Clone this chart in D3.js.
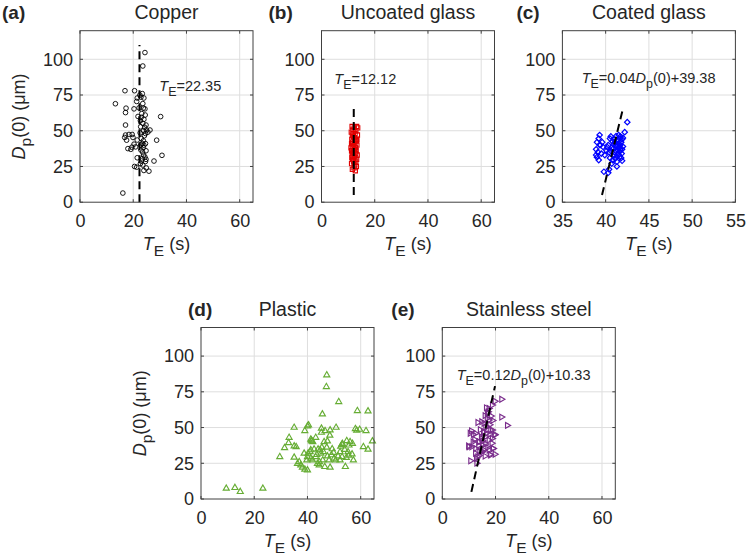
<!DOCTYPE html>
<html>
<head>
<meta charset="utf-8">
<script src="https://cdn.jsdelivr.net/npm/d3@7"></script>
<style>
  body { margin: 0; background: #fff; }
  text { font-family: "Liberation Sans", Arial, Helvetica, sans-serif; fill: #262626; }
</style>
</head>
<body>
<script>
// ---- data: [T_E (s), Dp(0) (um)] ----
var copperPts = [[24.4,104.7],[23.6,95.3],[16.9,78],[20.5,78],[23.4,76],[13.3,68.9],[21.5,72.9],[21.3,70.5],[24,72.9],
  [17.3,65.8],[20.3,65.3],[17.1,62.7],[23.8,65.8],[24.4,65.3],[23,59.4],[24,58],[30.3,59.9],[17.1,54],[23.6,55.2],
  [22.8,52.8],[24.3,52.4],[25,50.5],[26.3,50.5],[24.6,48.1],[17.1,47],[18.4,47.4],[19.6,47.4],[16.8,45.3],[19.9,45.3],
  [17.5,43.4],[23,44.6],[28.8,43.4],[23.4,41],[20.3,40.6],[20.9,38.7],[24,39.9],[22.8,39.9],[18,37.5],[23.8,38.2],
  [23.5,35.1],[30.8,32.8],[24.4,31.6],[23.4,30.4],[21.5,31.1],[23.1,28.8],[27.8,28.8],[20.5,25],[21.3,24.5],[24,22.2],
  [25.9,21.7],[16.1,6.4],[22.5,75],[22.9,73.5],[23.6,69],[23.2,62],[24.5,61],[22.7,57],[24.8,54],[23.9,50],[25.5,49],
  [24.2,46.5],[22.6,48.5],[23.8,43],[24.6,41],[22.9,36.5],[24.8,36],[23.9,33],[24.6,28.5],[22.7,27],[23.6,26],
  [24.9,24],[19.5,38.5],[19.1,37],[21.5,43.5],[22.2,66],[21.8,60],[24.8,30]];

var uncoatedPts = [[11.5,53],[12.3,52],[13.2,53],[11.8,51],[12.9,50],[11.2,49],[12.6,48],[13.5,47],[11.9,46],[12.2,45],
  [11.4,44],[12.8,44],[13.1,43],[11.7,42],[12.5,42],[11.3,41],[12.0,40],[13.3,40],[11.6,39],[12.7,38],[11.1,38],
  [12.4,37],[13.0,36],[11.9,36],[12.1,35],[11.5,34],[12.8,34],[13.4,33],[11.8,33],[12.3,32],[11.4,31],[12.6,31],
  [13.2,30],[11.7,30],[12.0,29],[12.9,28],[11.3,27],[12.5,26],[13.1,25],[12.2,24],[11.6,23],[12.7,22],[11.9,48],
  [12.4,45],[12.8,38],[11.8,35],[12.1,28],[12.5,41],[13.6,52],[11.3,36],[13.3,44],[11.6,47]];

var coatedPts = [[42.5,56],[42.2,49],[39.3,47],[39.2,44.5],[39.0,42],[39.4,40],[38.9,37],[39.1,35],[38.9,33],[39.0,31.5],
  [39.2,29.5],[39.5,34],[39.7,38.7],[39.9,33],[39.3,40],[40.3,40],[40.5,44.5],[40.1,36],[40.4,35],[39.6,42],[39.8,21.3],
  [40.3,20.6],[40.4,23],[40.7,27],[40.8,29.5],[41.3,28.3],[41.3,25],[41.6,31.7],[41.85,34],[41.7,40],[41.1,42.2],
  [40.9,37.6],[41.2,46.2],[41.5,47],[41.65,44.5],[41.3,38.7],[41.0,35],[41.4,36.5],[41.6,38],[41.8,42],[41.9,44],
  [41.2,40],[41.5,41],[40.9,40.5],[41.0,33],[41.3,32],[41.6,35.5],[41.9,37],[41.1,30.5],[40.7,38],[40.6,36],[41.4,43.5],
  [41.7,46],[42.0,45],[41.5,33.5],[41.8,31],[42.0,39],[40.8,42.5],[40.5,31],[41.2,36],[41.45,39.5],[41.0,44],[40.6,46],
  [41.9,29],[40.2,38.5],[41.7,36.5]];

var plasticPts = [[47.25,86.7],[47.1,78.5],[51.75,68],[45.6,59.4],[58.75,61.7],[62.75,61.5],[40.4,51.7],[40,51],[35,50],
  [39,47.7],[45.25,49.4],[46.6,47.7],[48.5,48.2],[50.75,50],[45.25,46.5],[48.4,44.5],[58,49.1],[59.6,48.6],[62,47.7],
  [33.1,43],[41.25,41.7],[41.6,40.5],[43.1,43],[32.9,39.3],[35,37],[35.75,36.5],[31.4,35.8],[29.6,29.5],[35,29.1],
  [38.75,31.9],[40.25,31.9],[41.25,34.3],[42.5,34.8],[44,34.8],[44.75,34.3],[45.4,36.1],[46.25,40],[47.25,36.1],
  [45,31.9],[43.1,29.5],[41.25,28.4],[39.75,27.2],[40,29.5],[36.9,26],[37.5,23.7],[38.1,22.1],[39,20.7],[40,20.2],
  [36.25,24.8],[41.9,27.2],[43.75,24.8],[44.4,23.7],[46.5,22.6],[48.5,22.1],[45.75,27.2],[47.5,30],[49,30.8],[50,28.4],
  [50.6,27.2],[48.1,27.2],[52.25,33],[53.1,38.8],[54.75,40.7],[55.6,37.6],[56.9,38.8],[52.5,36.8],[54,34.5],[55.25,33],
  [56.75,31.4],[53,29.5],[54.6,29],[52.25,27.2],[54.25,22.6],[57.25,27.2],[61,36.5],[62.75,34.7],[64.4,40.5],
  [9.5,7.4],[12.75,7.9],[14.75,5.1],[23.25,7.4],[41.5,41],[42,40],[47.5,40.5],[49.3,35],[53,38],[56,40],[58.5,48],
  [41,33],[43.5,31],[46,33],[49.8,32.5],[51.5,30],[55.5,30.5],[44.5,26]];

var steelPts = [[22.25,69.8],[19.75,68.4],[18.75,65.7],[16.5,63.8],[17.5,63.4],[16.9,59.9],[22.25,57.3],[24.4,51.5],
  [16,58.3],[14.75,54.1],[13.3,53.5],[17.5,55.3],[10.4,46],[11.6,45.2],[19.75,45.2],[18.75,42.4],[18.1,48.2],[9.8,37.1],
  [11,36.6],[12.5,35.4],[13.75,40.1],[14.75,42.4],[15.4,47.1],[16.25,50.5],[17.5,34.3],[19,35.4],[19.75,31.3],[18.1,30.8],
  [13.75,30.4],[14.75,33.6],[12.75,28.5],[10.6,26.7],[12.9,25.1],[15,33.1],[10.9,47.7],[12.5,45.9],[12.1,41.7],[10,36.5],
  [17.9,31.2],[19.1,35.4],[19.6,44.7],[18.75,48.2],[15.6,47],[14.6,43.5],[13.75,40],[15,37.7],[16.25,43.5],[16.9,50.5],
  [15.6,52.9],[17.5,41.2],[15.6,34.2],[14,33],[13.25,29.5],[17.2,61],[18.3,58],[17.8,52],[16.5,46],[18.6,39],[16.2,38.5],
  [17,36],[15.2,40.5],[17.8,45.5],[18.9,55],[14.2,48.5],[13.6,37.5],[16.8,56.5],[12.4,32],[16,30],[11.5,40]];

// fitted / mean lines: T = a*D + b, drawn over D range
var copperFit = {a: 0, b: 22.35, d0: 0, d1: 110};
var uncoatedFit = {a: 0, b: 12.12, d0: 5, d1: 68};
var coatedFit = {a: 0.04, b: 39.38, d0: 5, d1: 67};
var steelFit = {a: 0.12, b: 10.33, d0: 5, d1: 79};

var yTicks = [0, 25, 50, 75, 100];
var xTicksA = [0, 20, 40, 60];
var xTicksC = [35, 40, 45, 50, 55];

var W = 747, H = 560, bw = 173, bh = 171.5;
var svg = d3.select("body").append("svg").attr("width", W).attr("height", H);

// rich text: parts = [text, italic?, sub?]
function rich(sel, parts, fs){
  var down = 0;
  parts.forEach(function(p){
    var ts = sel.append("tspan").text(p[0]);
    if (p[1]) ts.style("font-style", "italic");
    var want = p[2] ? Math.round(fs*0.36) : 0;
    if (want != down) { ts.attr("dy", want - down); down = want; }
    if (p[2]) ts.style("font-size", (fs*0.86) + "px");
  });
}

function panel(o){
  var g = svg.append("g").attr("transform", "translate(" + o.left + "," + o.top + ")");
  var x = d3.scaleLinear().domain(o.xdom).range([0, bw]);
  var y = d3.scaleLinear().domain([0, 120]).range([bh, 0]);

  // grid
  g.append("g").selectAll("line").data(o.xticks.filter(function(d){ return d > o.xdom[0] && d < o.xdom[1]; }))
    .join("line").attr("x1", x).attr("x2", x).attr("y1", 0).attr("y2", bh)
    .attr("stroke", "#dedede").attr("stroke-width", 1);
  g.append("g").selectAll("line").data(yTicks.slice(1))
    .join("line").attr("y1", y).attr("y2", y).attr("x1", 0).attr("x2", bw)
    .attr("stroke", "#dedede").attr("stroke-width", 1);

  // inward ticks
  var tk = 3;
  o.xticks.forEach(function(d){
    g.append("line").attr("x1", x(d)).attr("x2", x(d)).attr("y1", bh).attr("y2", bh - tk).attr("stroke", "#404040");
    g.append("line").attr("x1", x(d)).attr("x2", x(d)).attr("y1", 0).attr("y2", tk).attr("stroke", "#404040");
  });
  yTicks.forEach(function(d){
    g.append("line").attr("y1", y(d)).attr("y2", y(d)).attr("x1", 0).attr("x2", tk).attr("stroke", "#404040");
    g.append("line").attr("y1", y(d)).attr("y2", y(d)).attr("x1", bw).attr("x2", bw - tk).attr("stroke", "#404040");
  });

  // tick labels
  var ax = g.append("g").attr("transform", "translate(0," + bh + ")")
    .call(d3.axisBottom(x).tickValues(o.xticks).tickSize(0).tickPadding(12));
  var ay = g.append("g").call(d3.axisLeft(y).tickValues(yTicks).tickSize(0).tickPadding(7));
  [ax, ay].forEach(function(a){
    a.select(".domain").remove();
    a.attr("font-family", null).attr("font-size", null);
    a.selectAll("text").style("font-size", "18px").attr("fill", "#262626");
  });

  // markers
  var sym = d3.symbol().type(o.sym).size(o.size);
  g.append("g").selectAll("path").data(o.pts).join("path")
    .attr("d", sym)
    .attr("transform", function(d){ return "translate(" + x(d[0]) + "," + y(d[1]) + ") rotate(" + (o.rot || 0) + ")"; })
    .attr("fill", "none").attr("stroke", o.color).attr("stroke-width", o.sw || 1);

  // dashed line on top of markers
  if (o.fit) {
    var f = o.fit;
    var line = d3.line().x(function(d){ return x(f.a*d + f.b); }).y(function(d){ return y(d); });
    g.append("path").datum([f.d0, f.d1]).attr("d", line)
      .attr("stroke", "#000").attr("stroke-width", 2).attr("stroke-dasharray", "8,5").attr("fill", "none");
  }

  // box
  g.append("rect").attr("width", bw).attr("height", bh).attr("fill", "none")
    .attr("stroke", "#404040").attr("stroke-width", 1);

  // annotation
  if (o.note) {
    var t = g.append("text").attr("x", x(o.noteAt[0])).attr("y", y(o.noteAt[1])).style("font-size", "14.5px");
    rich(t, o.note, 14.5);
  }

  // title and panel letter
  g.append("text").attr("x", bw/2).attr("y", -12).attr("text-anchor", "middle")
    .style("font-size", "19.5px").text(o.title);
  g.append("text").attr("x", o.letterX).attr("y", -12).style("font-size", "19px")
    .style("font-weight", "bold").text(o.letter);

  // axis labels
  var xl = g.append("text").attr("x", bw/2).attr("y", bh + 48).attr("text-anchor", "middle").style("font-size", "18px");
  rich(xl, [["T", true], ["E", false, true], [" (s)"]], 18);
  if (o.ylab) {
    var yl = g.append("text").attr("transform", "translate(-55," + (bh/2) + ") rotate(-90)")
      .attr("text-anchor", "middle").style("font-size", "18px");
    rich(yl, [["D", true], ["p", false, true], ["(0) (μm)"]], 18);
  }
}

panel({left: 80, top: 30.7, xdom: [0, 65], xticks: xTicksA, pts: copperPts, sym: d3.symbolCircle, size: 17,
  color: "#000", sw: 0.9, fit: copperFit, title: "Copper", letter: "(a)", letterX: -78, ylab: true,
  note: [["T", true], ["E", false, true], ["=22.35"]], noteAt: [29.8, 77.8]});
panel({left: 321.5, top: 30.7, xdom: [0, 65], xticks: xTicksA, pts: uncoatedPts, sym: d3.symbolSquare, size: 18,
  color: "#e00000", sw: 1.1, fit: uncoatedFit, title: "Uncoated glass", letter: "(b)", letterX: -53,
  note: [["T", true], ["E", false, true], ["=12.12"]], noteAt: [4.8, 82.7]});
panel({left: 562.4, top: 30.7, xdom: [35, 55], xticks: xTicksC, pts: coatedPts, sym: d3.symbolSquare, size: 15, rot: 45,
  color: "#0000ff", sw: 1.2, fit: coatedFit, title: "Coated glass", letter: "(c)", letterX: -46,
  note: [["T", true], ["E", false, true], ["=0.04"], ["D", true], ["p", false, true], ["(0)+39.38"]], noteAt: [37.23, 83.2]});
panel({left: 201, top: 327.5, xdom: [0, 65], xticks: xTicksA, pts: plasticPts, sym: d3.symbolTriangle, size: 16,
  color: "#66ad34", sw: 1.15, title: "Plastic", letter: "(d)", letterX: -13, ylab: true});
panel({left: 442.3, top: 327.5, xdom: [0, 65], xticks: xTicksA, pts: steelPts, sym: d3.symbolTriangle, size: 15, rot: 90,
  color: "#7a2d8c", sw: 1.15, fit: steelFit, title: "Stainless steel", letter: "(e)", letterX: -51,
  note: [["T", true], ["E", false, true], ["=0.12"], ["D", true], ["p", false, true], ["(0)+10.33"]], noteAt: [5.4, 83.3]});
</script>
</body>
</html>
